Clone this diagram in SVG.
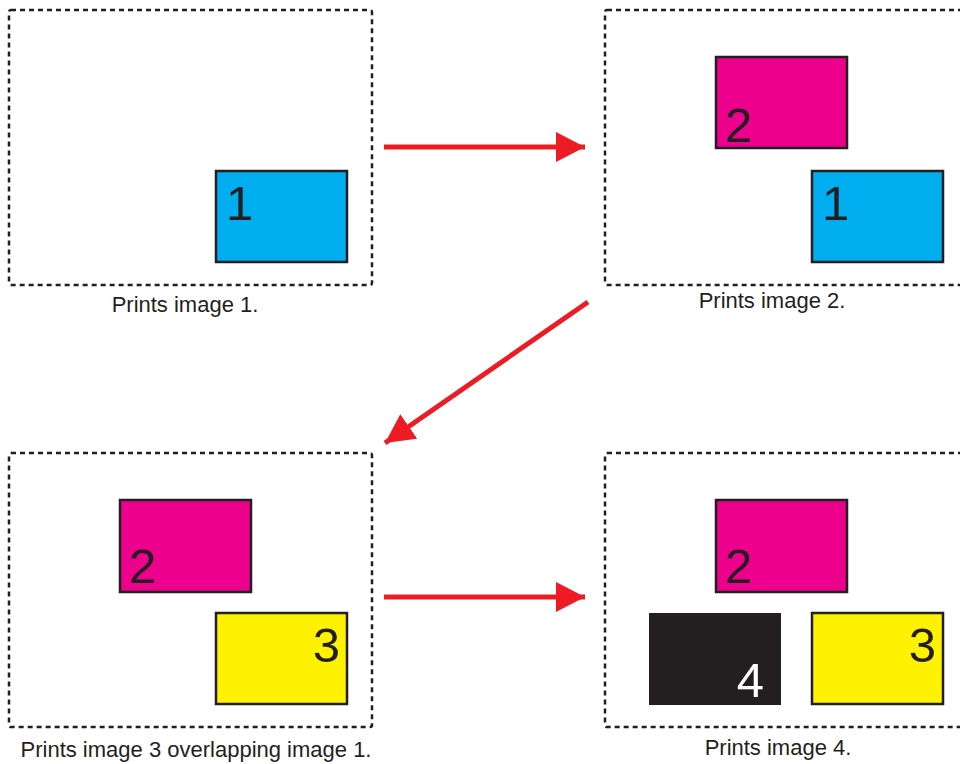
<svg xmlns="http://www.w3.org/2000/svg" width="960" height="764" viewBox="0 0 960 764">
<style>
.panel{fill:none;stroke:#231F20;stroke-width:2.5;stroke-dasharray:5 4}
.box{stroke:#231F20;stroke-width:2.5}
.cyan{fill:#00AEEF}.mag{fill:#EC008C}.yel{fill:#FFF200}.blk{fill:#231F20}
.num{font-family:"Liberation Sans",Arial,sans-serif;font-size:49px;fill:#231F20}
.cap{font-family:"Liberation Sans",Arial,sans-serif;font-size:22px;fill:#231F20;text-anchor:middle}
.arrow{stroke:#ED1C24;stroke-width:5;fill:none}
</style>
<defs>
<marker id="ah" markerUnits="userSpaceOnUse" markerWidth="30" markerHeight="30" refX="29" refY="15" orient="auto" viewBox="0 0 30 30">
<path d="M0,0 L29,15 L0,30 Z" fill="#ED1C24"/>
</marker>
</defs>
<rect width="960" height="764" fill="#fff"/>
<g id="panel1">
<rect class="panel" x="9" y="10" width="363" height="275" rx="2"/>
<rect class="box cyan" x="216" y="171" width="131" height="91"/>
<text class="num" x="226" y="220">1</text>
<text class="cap" x="185" y="312">Prints image 1.</text>
</g>
<g id="panel2">
<rect class="panel" x="605" y="10" width="363" height="275" rx="2"/>
<rect class="box mag" x="716" y="57" width="131" height="91"/>
<text class="num" x="725" y="142">2</text>
<rect class="box cyan" x="812" y="171" width="131" height="91"/>
<text class="num" x="822" y="220">1</text>
<text class="cap" x="772" y="308">Prints image 2.</text>
</g>
<g id="panel3">
<rect class="panel" x="9" y="453" width="363" height="274" rx="2"/>
<rect class="box mag" x="120" y="500" width="131" height="92"/>
<text class="num" x="129" y="583">2</text>
<rect class="box yel" x="216" y="613" width="131" height="91"/>
<text class="num" x="340" y="662" text-anchor="end">3</text>
<text class="cap" x="196" y="757">Prints image 3 overlapping image 1.</text>
</g>
<g id="panel4">
<rect class="panel" x="605" y="453" width="363" height="274" rx="2"/>
<rect class="box mag" x="716" y="500" width="131" height="92"/>
<text class="num" x="725" y="583">2</text>
<rect class="blk" x="649" y="613" width="132" height="92"/>
<text class="num" x="764" y="697" text-anchor="end" style="fill:#fff">4</text>
<rect class="box yel" x="812" y="613" width="131" height="91"/>
<text class="num" x="936" y="662" text-anchor="end">3</text>
<text class="cap" x="778" y="755">Prints image 4.</text>
</g>
<g id="connectors">
<line class="arrow" x1="384" y1="147" x2="585" y2="147" marker-end="url(#ah)"/>
<line class="arrow" x1="588" y1="302" x2="385" y2="443" marker-end="url(#ah)"/>
<line class="arrow" x1="384" y1="597" x2="585" y2="597" marker-end="url(#ah)"/>
</g>
</svg>
